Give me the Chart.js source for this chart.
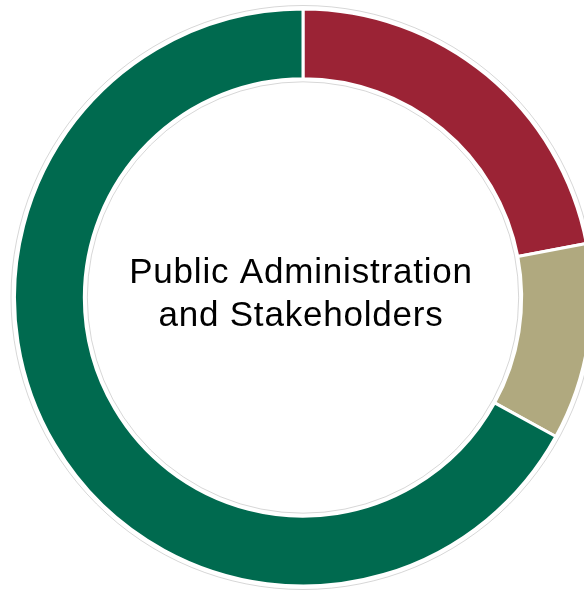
<!DOCTYPE html>
<html>
<head>
<meta charset="utf-8">
<script src="https://cdn.jsdelivr.net/npm/chart.js@4.4.1/dist/chart.umd.min.js"></script>
<style>
    html, body { margin: 0; padding: 0; background: #ffffff; overflow: hidden; }
    #wrap { position: relative; width: 608px; height: 590px; }
</style>
</head>
<body>
<div id="wrap"><canvas id="ringChart"></canvas></div>
<script>
const segmentLabels = ['Segment 1', 'Segment 2', 'Segment 3'];
const segmentValues = [22, 11, 67];
const segmentColors = ['#9b2335', '#b0a97f', '#006a4f'];
const centerLines = ['Public Administration', 'and Stakeholders'];

// faint grey rim outside and inside the ring, plus the centre caption
const ringDecor = {
    id: 'ringDecor',
    afterDatasetsDraw(chart) {
        const arc = chart.getDatasetMeta(0).data[0];
        if (!arc) return;
        const { ctx } = chart;
        const { x, y, outerRadius, innerRadius } = arc.getProps(['x', 'y', 'outerRadius', 'innerRadius'], true);

        ctx.save();
        ctx.strokeStyle = 'rgba(0, 0, 0, 0.16)';
        ctx.lineWidth = 1;
        ctx.beginPath();
        ctx.arc(x, y, outerRadius + 3.5, 0, Math.PI * 2);
        ctx.stroke();
        ctx.beginPath();
        ctx.arc(x, y, innerRadius - 3, 0, Math.PI * 2);
        ctx.stroke();

        ctx.fillStyle = '#000000';
        ctx.font = '35px "Liberation Sans", Arial, sans-serif';
        ctx.letterSpacing = '0.8px';
        ctx.textAlign = 'center';
        ctx.textBaseline = 'alphabetic';
        ctx.fillText(centerLines[0], x - 2, y - 15);
        ctx.fillText(centerLines[1], x - 2, y + 28);
        ctx.restore();
    },
};

new Chart(document.querySelector('#ringChart'), {
    type: 'doughnut',
    data: {
        labels: segmentLabels,
        datasets: [{
            data: segmentValues,
            backgroundColor: segmentColors,
            borderColor: '#ffffff',
            borderWidth: 3,
        }],
    },
    options: {
        responsive: true,
        maintainAspectRatio: false,
        animation: false,
        cutout: '75.8%',
        layout: { padding: { top: 7, bottom: 2, left: 13, right: 15 } },
        plugins: {
            legend: { display: false },
            tooltip: { enabled: false },
        },
    },
    plugins: [ringDecor],
});
</script>
</body>
</html>
